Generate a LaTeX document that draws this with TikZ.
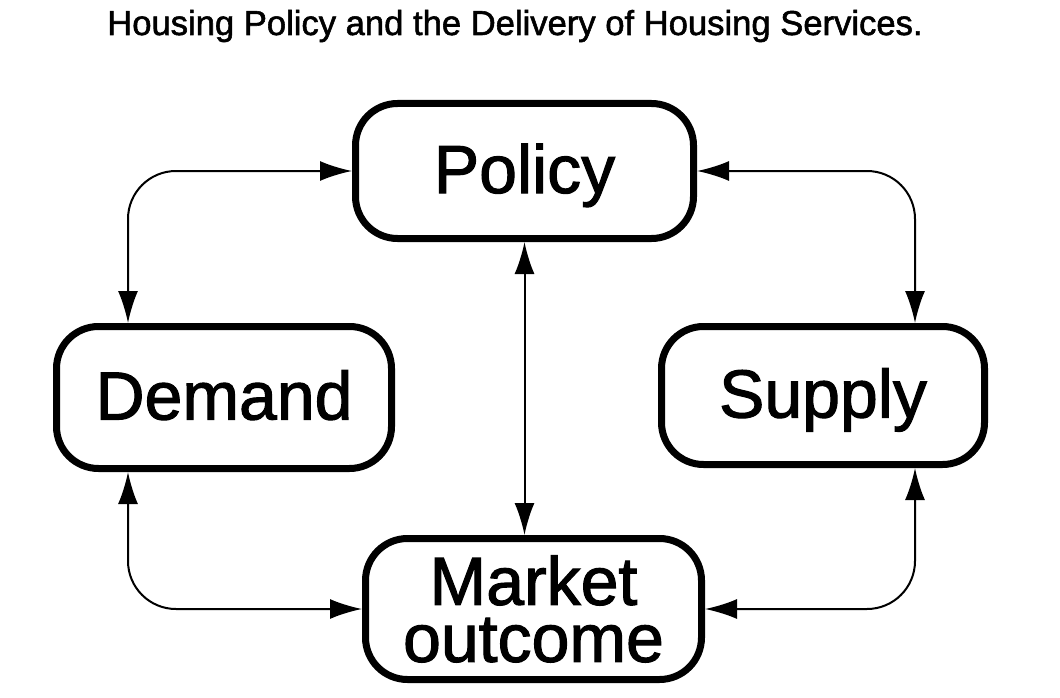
\documentclass[tikz,border=0pt]{standalone}
\usepackage{fontspec}
\setmainfont{Liberation Sans}[BoldFont=Liberation Sans,BoldFeatures={FakeBold=1.6}]
\usepackage{tikz}
\usetikzlibrary{arrows.meta}

\begin{document}
\begin{tikzpicture}[x=1pt,y=-1pt,
        box/.style={draw,line width=7pt,rounded corners=42pt,inner sep=0pt,align=center,
                    font=\fontsize{68}{57}\selectfont\bfseries},
        oneline/.style={box,text height=50pt,text depth=6pt},
        link/.style={{Latex[length=32pt,width=20pt]}-{Latex[length=32pt,width=20pt]},
                    line width=2pt,rounded corners=48pt}]
        \useasboundingbox (0,0) rectangle (1060,698);

        \node[anchor=base,font=\fontsize{34.6}{40}\selectfont\bfseries] (title) at (515,35)
                {Housing Policy and the Delivery of Housing Services.};

        \node[oneline,minimum width=338pt,minimum height=135pt] (pol) at (524.5,171) {Policy};
        \node[oneline,minimum width=335pt,minimum height=142pt] (dem) at (224,397.5) {Demand};
        \node[oneline,minimum width=323pt,minimum height=138pt] (sup) at (823,395.5) {Supply};
        \node[box,minimum width=336pt,minimum height=141pt] (mkt) at (533.5,609) {Market\\outcome};

        % where the side links run down
        \coordinate (lx) at (128,0);
        \coordinate (rx) at (915,0);

        \draw[link] (pol.west) -| (dem.north -| lx);
        \draw[link] (pol.east) -| (sup.north -| rx);
        \draw[link] (dem.south -| lx) |- (mkt.west);
        \draw[link] (sup.south -| rx) |- (mkt.east);
        \draw[link] (pol.south) -- (pol.south |- mkt.north);
\end{tikzpicture}
\end{document}
